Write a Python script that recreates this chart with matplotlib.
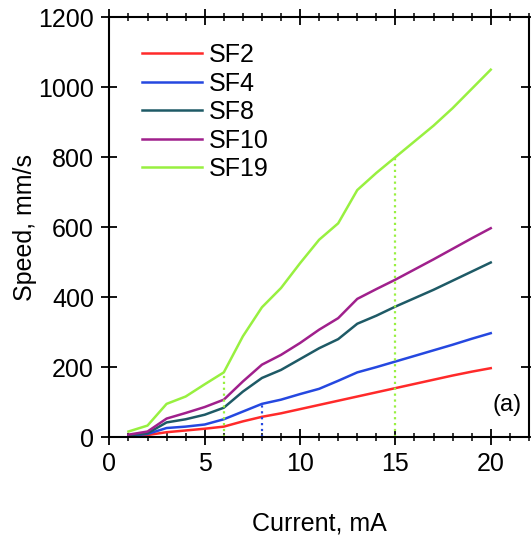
import numpy as np
import matplotlib.pyplot as plt
from matplotlib.ticker import MultipleLocator

plt.rcParams['font.family'] = ['Liberation Sans', 'DejaVu Sans']

current = list(range(1, 21))
sf2 = [2, 6, 14, 19, 24, 30, 45, 58, 68, 80, 92, 104, 116, 128, 140, 152, 164, 176, 187, 197]
sf4 = [4, 9, 26, 30, 36, 51, 73, 95, 107, 123, 138, 161, 185, 200, 216, 232, 248, 264, 281, 297]
sf8 = [5, 11, 42, 51, 64, 84, 130, 169, 192, 223, 254, 280, 324, 347, 373, 397, 421, 447, 473, 499]
sf10 = [7, 16, 53, 69, 86, 107, 159, 207, 235, 269, 307, 340, 395, 423, 450, 479, 508, 538, 568, 597]
sf19 = [16, 33, 95, 116, 151, 185, 288, 371, 426, 497, 564, 611, 706, 755, 800, 845, 890, 940, 995, 1050]

names = ['SF2', 'SF4', 'SF8', 'SF10', 'SF19']
colors = ['#ff2a2a', '#2548e0', '#1e5a66', '#a0208c', '#98f040']

# dotted guide lines: (x, series index)
guides = [(6, 4), (8, 1), (15, 4)]

fig = plt.figure(figsize=(5.31, 5.37), dpi=100)
ax = fig.add_axes([0.206, 0.186, 0.790, 0.782])

series = [sf2, sf4, sf8, sf10, sf19]
for s, name, c in zip(series, names, colors):
    ax.plot(current, s, color=c, lw=1.8, label=name)

for xg, idx in guides:
    yg = series[idx][current.index(xg)]
    ax.plot([xg, xg], [0, yg], color=colors[idx], lw=1.6, ls=':')

ax.set_xlim(0, 22)
ax.set_ylim(0, 1200)
ax.xaxis.set_major_locator(MultipleLocator(5))
ax.xaxis.set_minor_locator(MultipleLocator(1))
ax.yaxis.set_major_locator(MultipleLocator(200))
ax.set_xticks([0, 5, 10, 15, 20])

ax.tick_params(which='major', direction='inout', length=12, width=1.3,
               top=True, right=True, labelsize=18, pad=5)
ax.tick_params(which='minor', direction='inout', length=6, width=1.1, top=True)
for sp in ax.spines.values():
    sp.set_linewidth(1.5)

ax.set_xlabel('Current, mA', fontsize=18, labelpad=25)
ax.set_ylabel('Speed, mm/s', fontsize=18, labelpad=1)

ax.text(0.983, 0.05, '(a)', transform=ax.transAxes, ha='right', va='bottom', fontsize=17)

ax.legend(loc='upper left', frameon=False, fontsize=18, handlelength=2.4,
          handletextpad=0.25, labelspacing=0.18, borderaxespad=0,
          bbox_to_anchor=(0.055, 0.962))

fig.savefig('out.png', dpi=100)
